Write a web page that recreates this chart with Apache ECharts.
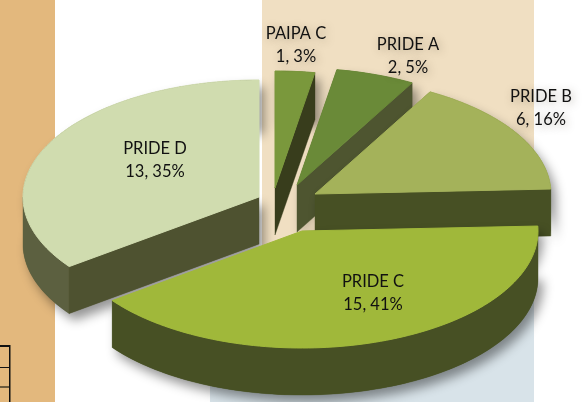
<!DOCTYPE html>
<html>
<head>
<meta charset="utf-8">
<script src="https://cdn.jsdelivr.net/npm/echarts@6/dist/echarts.min.js"></script>
<style>html,body{margin:0;padding:0;background:#fff}#c{width:588px;height:402px}</style>
</head>
<body>
<div id="c"></div>
<script>
const categories = ['PAIPA C', 'PRIDE A', 'PRIDE B', 'PRIDE C', 'PRIDE D'];
const values = [1, 2, 6, 15, 13];

const topColors = ['#7a983c', '#6a8a38', '#a4b25a', '#a0b83a', '#d0dcaf'];
const faceColors = ['#383d1c', '#4e5530', '#475024', '#475024', '#4e5230'];
const rimColors = ['#383d1c', '#4e5530', '#475024', '#475024', '#5c6040'];
const layers = [1, 2, 3, 5, 4];
const RX = 236, RY = 117, DEPTH = 47;
const centres = [[275, 188], [297, 185], [315, 194], [302, 231], [259, 197]];
const labelAt = [[296, 45], [408, 56], [541, 108], [373, 293], [155, 160]];

const total = values.reduce((a, b) => a + b, 0);
const rad = d => d * Math.PI / 180;

function renderSlice(params, api) {
  const i = api.value(0);
  const before = values.slice(0, i).reduce((a, b) => a + b, 0);
  const t1 = before / total * 360;
  const t2 = (before + values[i]) / total * 360;
  const [cx, cy] = centres[i];
  const pt = (t, dz) => [cx + RX * Math.sin(rad(t)), cy - RY * Math.cos(rad(t)) + (dz || 0)];
  const arc = (a, b, dz) => {
    const pts = [];
    const n = Math.max(2, Math.ceil(Math.abs(b - a) / 1.5));
    for (let k = 0; k <= n; k++) pts.push(pt(a + (b - a) * k / n, dz));
    return pts;
  };
  const apex = [cx, cy], apexLow = [cx, cy + DEPTH];
  const z = layers[i] * 10;
  const children = [];
  const poly = (points, fill, z2, extra) => children.push({
    type: 'polygon', z2: z + z2, shape: { points },
    style: Object.assign({ fill, stroke: fill, lineWidth: 0.4 }, extra || {})
  });
  // silhouette carrying the soft drop shadow
  poly([apex].concat(arc(t1, t2)).concat(arc(t2, t1, DEPTH)).concat([apexLow]), rimColors[i], 0, {
    stroke: null, shadowBlur: 11, shadowColor: 'rgba(0,0,0,0.42)', shadowOffsetX: 5, shadowOffsetY: 7
  });
  // outer rim
  const a = Math.max(t1, 90), b = Math.min(t2, 270);
  if (b > a) poly(arc(a, b).concat(arc(b, a, DEPTH)), rimColors[i], 1);
  // cut faces that look toward the viewer
  [[t1, -1], [t2, 1]].forEach(([t, sign]) => {
    if (sign * Math.sin(rad(t)) > 1e-6) {
      poly([apex, pt(t), pt(t, DEPTH), apexLow], faceColors[i], 2);
    }
  });
  // top
  poly([apex].concat(arc(t1, t2)), topColors[i], 3, { lineWidth: 1 });
  const pct = Math.round(values[i] / total * 100);
  const inside = i >= 3;
  children.push({
    type: 'text', z2: 100,
    style: {
      x: labelAt[i][0], y: labelAt[i][1],
      text: categories[i] + '\n' + values[i] + ', ' + pct + '%',
      fill: '#111', font: '16.5px Lato, "Open Sans", sans-serif',
      lineHeight: 23, align: 'center', verticalAlign: 'middle',
      textShadowBlur: inside ? 0 : 8, textShadowColor: 'rgba(60,50,30,0.35)', textShadowOffsetX: 2, textShadowOffsetY: 2
    }
  });
  return { type: 'group', children };
}

const rect = (x, y, width, height, fill) => ({
  type: 'rect', silent: true, z: -10, shape: { x, y, width, height }, style: { fill }
});

const chart = echarts.init(document.getElementById('c'), null, { renderer: 'canvas', width: 588, height: 402 });
chart.setOption({
  animation: false,
  backgroundColor: '#ffffff',
  graphic: [
    rect(0, 0, 55, 402, '#e3b87d'),
    rect(262, 0, 272, 300, '#f0dfc2'),
    rect(210, 300, 324, 102, '#d8e3e9'),
    rect(0, 345, 10, 2, '#111'),
    rect(9, 345, 1.5, 57, '#111'),
    rect(0, 367, 9, 1, '#111'),
    rect(0, 386, 9, 2, '#6b5a3c')
  ],
  xAxis: { show: false }, yAxis: { show: false },
  series: [{
    type: 'custom',
    coordinateSystem: 'none',
    silent: true,
    clip: false,
    data: values.map((v, i) => [i, v]),
    encode: { value: [0, 1] },
    renderItem: renderSlice
  }]
});
</script>
</body>
</html>
